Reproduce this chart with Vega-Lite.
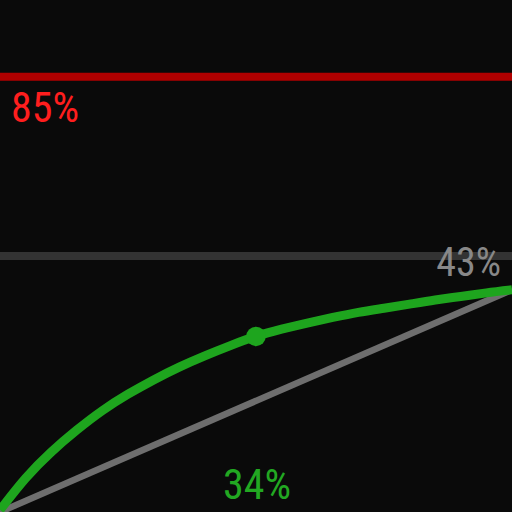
{
  "$schema": "https://vega.github.io/schema/vega-lite/v6.json",
  "width": 512,
  "height": 512,
  "autosize": {"type": "none"},
  "padding": 0,
  "background": "#0a0a0a",
  "config": {"view": {"stroke": null}},
  "datasets": {
    "curve": [
      {"x": 0, "y": 0.4}, {"x": 5, "y": 6.6}, {"x": 10, "y": 11.7}, {"x": 15, "y": 16},
      {"x": 20, "y": 19.8}, {"x": 25, "y": 23}, {"x": 30, "y": 25.8}, {"x": 35, "y": 28.3},
      {"x": 40, "y": 30.5}, {"x": 45, "y": 32.5}, {"x": 50, "y": 34.3}, {"x": 55, "y": 35.7},
      {"x": 60, "y": 36.9}, {"x": 65, "y": 38}, {"x": 70, "y": 39}, {"x": 75, "y": 39.8},
      {"x": 80, "y": 40.6}, {"x": 85, "y": 41.4}, {"x": 90, "y": 42.1}, {"x": 95, "y": 42.8},
      {"x": 100, "y": 43.4}
    ],
    "diag": [{"x": 0, "y": 0}, {"x": 100, "y": 43.4}]
  },
  "encoding": {
    "x": {"field": "x", "type": "quantitative", "scale": {"domain": [0, 100], "nice": false, "zero": false}, "axis": null},
    "y": {"field": "y", "type": "quantitative", "scale": {"domain": [0, 100], "nice": false, "zero": false}, "axis": null}
  },
  "layer": [
    {
      "data": {"values": [{"y": 85}]},
      "mark": {"type": "rule", "color": "#b00000", "strokeWidth": 8},
      "encoding": {"x": null}
    },
    {
      "data": {"values": [{"y": 50}]},
      "mark": {"type": "rule", "color": "#333333", "strokeWidth": 8},
      "encoding": {"x": null}
    },
    {
      "data": {"name": "diag"},
      "mark": {"type": "line", "color": "#6e6e6e", "strokeWidth": 6.5}
    },
    {
      "data": {"name": "curve"},
      "mark": {"type": "line", "color": "#1ea51e", "strokeWidth": 9, "interpolate": "natural"}
    },
    {
      "data": {"values": [{"x": 50, "y": 34.3}]},
      "mark": {"type": "point", "filled": true, "shape": "circle", "size": 380, "color": "#1ea51e", "opacity": 1}
    },
    {
      "data": {"values": [{"x": 0, "y": 85, "label": "85%"}]},
      "mark": {"type": "text", "align": "left", "baseline": "alphabetic", "dx": 11, "dy": 45, "fontSize": 42, "font": "Roboto Condensed", "color": "#ff1e1e"},
      "encoding": {"text": {"field": "label"}}
    },
    {
      "data": {"values": [{"x": 100, "y": 43.4, "label": "43%"}]},
      "mark": {"type": "text", "align": "right", "baseline": "alphabetic", "dx": -11, "dy": -14, "fontSize": 40, "font": "Roboto Condensed", "color": "#888888"},
      "encoding": {"text": {"field": "label"}}
    },
    {
      "data": {"values": [{"x": 50, "y": 0, "label": "34%"}]},
      "mark": {"type": "text", "align": "center", "baseline": "alphabetic", "dx": 1, "dy": -13, "fontSize": 42, "font": "Roboto Condensed", "color": "#22a822"},
      "encoding": {"text": {"field": "label"}}
    }
  ]
}
